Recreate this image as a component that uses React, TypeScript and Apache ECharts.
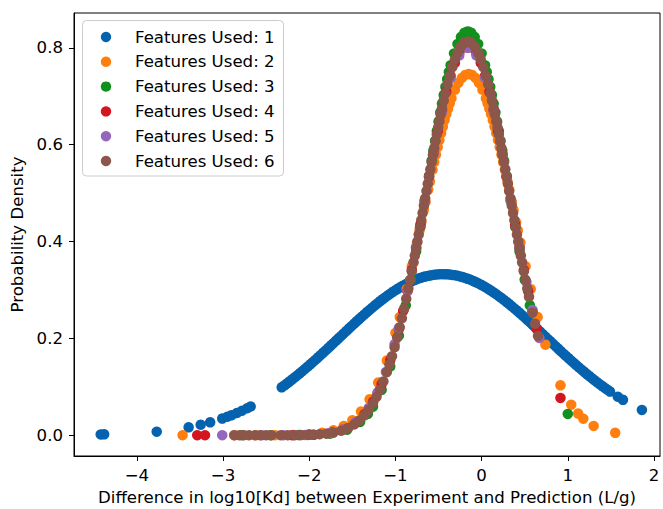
import React, { useEffect, useRef } from "react";
import * as echarts from "echarts";

type P = [number, number];

const seriesNames = [
  "Features Used: 1",
  "Features Used: 2",
  "Features Used: 3",
  "Features Used: 4",
  "Features Used: 5",
  "Features Used: 6",
];
const seriesColors = ["#0462ae", "#ff7f0e", "#11901e", "#d3151f", "#9467bd", "#8c564b"];

const xTicks = [-4, -3, -2, -1, 0, 1, 2];
const yTicks = [0, 0.2, 0.4, 0.6, 0.8];

const features1: P[] = [
  [-4.42, 0.0015], [-4.38, 0.0017], [-3.77, 0.0072], [-3.4, 0.0162], [-3.26, 0.0214], [-3.15, 0.0265],
  [-3.01, 0.0342], [-2.95, 0.038], [-2.9, 0.0414], [-2.84, 0.0457], [-2.78, 0.0505], [-2.72, 0.0556], [-2.68, 0.0592],
  [-2.32, 0.0988], [-2.29, 0.1026], [-2.26, 0.1066], [-2.23, 0.1107], [-2.2, 0.1148], [-2.17, 0.119], [-2.14, 0.1234],
  [-2.11, 0.1277], [-2.08, 0.1322], [-2.05, 0.1367], [-2.02, 0.1413], [-1.99, 0.1459], [-1.96, 0.1507], [-1.93, 0.1554],
  [-1.9, 0.1602], [-1.87, 0.1651], [-1.84, 0.17], [-1.81, 0.175], [-1.78, 0.1799], [-1.75, 0.1849], [-1.72, 0.1899],
  [-1.69, 0.1949], [-1.66, 0.2], [-1.63, 0.205], [-1.6, 0.2101], [-1.57, 0.2151], [-1.54, 0.2201], [-1.51, 0.2251],
  [-1.48, 0.23], [-1.45, 0.235], [-1.42, 0.2398], [-1.39, 0.2447], [-1.36, 0.2494], [-1.33, 0.2541], [-1.3, 0.2587],
  [-1.27, 0.2633], [-1.24, 0.2677], [-1.21, 0.2721], [-1.18, 0.2763], [-1.15, 0.2805], [-1.12, 0.2845], [-1.09, 0.2884],
  [-1.06, 0.2922], [-1.03, 0.2959], [-1.0, 0.2993], [-0.97, 0.3027], [-0.94, 0.3059], [-0.91, 0.3089], [-0.88, 0.3118],
  [-0.85, 0.3145], [-0.82, 0.3171], [-0.79, 0.3194], [-0.76, 0.3216], [-0.73, 0.3236], [-0.7, 0.3254], [-0.67, 0.327],
  [-0.64, 0.3284], [-0.61, 0.3295], [-0.58, 0.3305], [-0.55, 0.3313], [-0.52, 0.3319], [-0.49, 0.3323], [-0.46, 0.3325],
  [-0.43, 0.3325], [-0.4, 0.3322], [-0.37, 0.3318], [-0.34, 0.3311], [-0.31, 0.3302], [-0.28, 0.3292], [-0.25, 0.3279],
  [-0.22, 0.3265], [-0.19, 0.3248], [-0.16, 0.3229], [-0.13, 0.3209], [-0.1, 0.3187], [-0.07, 0.3162], [-0.04, 0.3137],
  [-0.01, 0.3109], [0.02, 0.308], [0.05, 0.3049], [0.08, 0.3016], [0.11, 0.2982], [0.14, 0.2946], [0.17, 0.291],
  [0.2, 0.2871], [0.23, 0.2832], [0.26, 0.2791], [0.29, 0.2749], [0.32, 0.2707], [0.35, 0.2662], [0.38, 0.2617],
  [0.41, 0.2572], [0.44, 0.2526], [0.47, 0.2478], [0.5, 0.2431], [0.53, 0.2382], [0.56, 0.2333], [0.59, 0.2284],
  [0.62, 0.2234], [0.65, 0.2185], [0.68, 0.2134], [0.71, 0.2084], [0.74, 0.2034], [0.77, 0.1983], [0.8, 0.1933],
  [0.83, 0.1882], [0.86, 0.1832], [0.89, 0.1783], [0.92, 0.1733], [0.95, 0.1683], [0.98, 0.1635], [1.01, 0.1586],
  [1.04, 0.1538], [1.07, 0.1491], [1.1, 0.1444], [1.13, 0.1397], [1.16, 0.1352], [1.19, 0.1307], [1.22, 0.1262],
  [1.25, 0.1219], [1.28, 0.1176], [1.31, 0.1134], [1.34, 0.1093], [1.37, 0.1053], [1.4, 0.1013], [1.43, 0.0975],
  [1.46, 0.0937], [1.49, 0.09], [1.58, 0.0795], [1.64, 0.073], [1.86, 0.0521],
];

const features2: P[] = [
  [-3.47, 0], [-2.87, 0], [-2.62, 0], [-2.4, 0.0001], [-2.18, 0.0005], [-2.0, 0.0019], [-1.85, 0.0048],
  [-1.72, 0.0101], [-1.6, 0.019], [-1.5, 0.0309], [-1.4, 0.0487], [-1.3, 0.0741], [-1.2, 0.1088], [-1.1, 0.1542],
  [-1.0, 0.2112], [-0.95, 0.2439], [-0.87, 0.3016], [-0.81, 0.3486], [-0.75, 0.3978], [-0.72, 0.4229], [-0.7, 0.4398],
  [-0.67, 0.4652], [-0.65, 0.4821], [-0.62, 0.5072], [-0.6, 0.5238], [-0.57, 0.5482], [-0.55, 0.5641], [-0.53, 0.5797],
  [-0.51, 0.5949], [-0.49, 0.6096], [-0.47, 0.6238], [-0.45, 0.6375], [-0.43, 0.6505], [-0.41, 0.6629], [-0.39, 0.6746],
  [-0.37, 0.6855], [-0.35, 0.6956], [-0.31, 0.7134], [-0.27, 0.7275], [-0.23, 0.7377], [-0.19, 0.7439], [-0.15, 0.746],
  [-0.11, 0.7439], [-0.07, 0.7377], [-0.03, 0.7275], [0.01, 0.7134], [0.05, 0.6956], [0.07, 0.6855], [0.09, 0.6746],
  [0.11, 0.6629], [0.13, 0.6505], [0.15, 0.6375], [0.17, 0.6238], [0.19, 0.6096], [0.21, 0.5949], [0.23, 0.5797],
  [0.25, 0.5641], [0.27, 0.5482], [0.3, 0.5238], [0.32, 0.5072], [0.35, 0.4821], [0.37, 0.4652], [0.4, 0.4398],
  [0.42, 0.4229], [0.45, 0.3978], [0.51, 0.3486], [0.57, 0.3016], [0.65, 0.2439], [0.74, 0.187],
  [0.915, 0.1029], [1.04, 0.0629], [1.12, 0.0446], [1.18, 0.034], [1.3, 0.019], [1.55, 0.0048],
];

const features3: P[] = [
  [-2.78, 0], [-2.45, 0], [-2.12, 0.0002], [-1.95, 0.0007], [-1.76, 0.0031], [-1.56, 0.0114], [-1.41, 0.0273],
  [-1.32, 0.0439], [-1.26, 0.059], [-1.16, 0.0935], [-1.06, 0.1417], [-0.96, 0.2056], [-0.88, 0.2682], [-0.82, 0.3215],
  [-0.76, 0.3794], [-0.71, 0.4302], [-0.66, 0.4826], [-0.61, 0.5354], [-0.58, 0.5669], [-0.56, 0.5876], [-0.54, 0.6081],
  [-0.52, 0.6281], [-0.5, 0.6476], [-0.48, 0.6666], [-0.46, 0.685], [-0.44, 0.7025], [-0.42, 0.7193], [-0.4, 0.7353],
  [-0.38, 0.7502], [-0.36, 0.7641], [-0.32, 0.7885], [-0.28, 0.8081], [-0.24, 0.8224], [-0.2, 0.8311], [-0.16, 0.834],
  [-0.12, 0.8311], [-0.08, 0.8224], [-0.04, 0.8081], [0.0, 0.7885], [0.04, 0.7641], [0.06, 0.7502], [0.08, 0.7353],
  [0.1, 0.7193], [0.12, 0.7025], [0.14, 0.685], [0.16, 0.6666], [0.18, 0.6476], [0.2, 0.6281], [0.22, 0.6081],
  [0.24, 0.5876], [0.26, 0.5669], [0.29, 0.5354], [0.34, 0.4826], [0.39, 0.4302], [0.44, 0.3794], [0.5, 0.3215],
  [0.56, 0.2682], [1.0, 0.0439],
];

const features4: P[] = [
  [-3.3, 0], [-3.21, 0], [-2.2, 0], [-2.0, 0.0008], [-1.73, 0.0054], [-1.61, 0.0112], [-1.46, 0.0259], [-1.36, 0.0431],
  [-1.26, 0.0688], [-1.16, 0.1055], [-1.06, 0.1552], [-0.96, 0.2192], [-0.91, 0.2566], [-0.86, 0.2974], [-0.81, 0.3411],
  [-0.76, 0.3873], [-0.71, 0.4353], [-0.66, 0.4843], [-0.61, 0.5334], [-0.56, 0.5815], [-0.51, 0.6276], [-0.46, 0.6704],
  [-0.41, 0.709], [-0.36, 0.7421], [-0.31, 0.769], [-0.26, 0.7888], [-0.21, 0.8009], [-0.16, 0.805], [-0.11, 0.8009],
  [-0.06, 0.7888], [-0.01, 0.769], [0.04, 0.7421], [0.09, 0.709], [0.14, 0.6704], [0.19, 0.6276], [0.24, 0.5815],
  [0.29, 0.5334], [0.34, 0.4843], [0.39, 0.4353], [0.44, 0.3873], [0.49, 0.3411], [0.54, 0.2974], [0.59, 0.2566],
  [0.64, 0.2192], [0.915, 0.0769],
];

const features5: P[] = [
  [-3.01, 0], [-2.55, 0], [-2.3, 0], [-2.05, 0.0003], [-1.76, 0.0047], [-1.61, 0.0117], [-1.46, 0.0269], [-1.31, 0.0562],
  [-1.21, 0.0874], [-1.11, 0.1306], [-1.01, 0.1875], [-0.96, 0.2213], [-0.86, 0.299], [-0.76, 0.3883], [-0.66, 0.4842],
  [-0.56, 0.5802], [-0.46, 0.6677], [-0.36, 0.7382], [-0.26, 0.7841], [-0.16, 0.8], [-0.06, 0.7841], [0.04, 0.7382],
  [0.14, 0.6677], [0.24, 0.5802], [0.34, 0.4842], [0.44, 0.3883], [0.52, 0.3161], [0.59, 0.2586], [0.67, 0.2006],
];

const features6: P[] = [
  [-2.87, 0], [-2.81, 0], [-2.76, 0], [-2.7, 0], [-2.63, 0], [-2.57, 0], [-2.5, 0], [-2.44, 0], [-2.33, 0], [-2.25, 0],
  [-2.17, 0.0001], [-2.1, 0.0002], [-2.02, 0.0005], [-1.95, 0.001], [-1.88, 0.002], [-1.8, 0.0031], [-1.72, 0.0052],
  [-1.63, 0.0092], [-1.55, 0.0148], [-1.48, 0.0219], [-1.42, 0.0302], [-1.36, 0.041], [-1.31, 0.0523], [-1.26, 0.066],
  [-1.22, 0.079], [-1.18, 0.0939], [-1.14, 0.1109], [-1.1, 0.13], [-1.07, 0.1459], [-1.04, 0.1631], [-1.01, 0.1816],
  [-0.98, 0.2015], [-0.95, 0.2228], [-0.925, 0.2415], [-0.9, 0.2611], [-0.875, 0.2815], [-0.85, 0.3028], [-0.83, 0.3203],
  [-0.81, 0.3384], [-0.79, 0.3568], [-0.775, 0.3709], [-0.76, 0.3853], [-0.745, 0.3997], [-0.73, 0.4143], [-0.715, 0.4291],
  [-0.7, 0.444], [-0.685, 0.4589], [-0.67, 0.474], [-0.655, 0.489], [-0.64, 0.5041], [-0.625, 0.5191], [-0.61, 0.5341],
  [-0.595, 0.549], [-0.58, 0.5638], [-0.565, 0.5785], [-0.55, 0.5929], [-0.535, 0.6073], [-0.52, 0.6213], [-0.505, 0.6351],
  [-0.49, 0.6486], [-0.475, 0.6618], [-0.46, 0.6746], [-0.44, 0.691], [-0.42, 0.7066], [-0.395, 0.725], [-0.37, 0.7419],
  [-0.34, 0.7602], [-0.31, 0.7759], [-0.28, 0.7891], [-0.24, 0.8023], [-0.2, 0.8103], [-0.16, 0.813], [-0.12, 0.8103],
  [-0.08, 0.8023], [-0.04, 0.7891], [-0.01, 0.7759], [0.02, 0.7602], [0.05, 0.7419], [0.075, 0.725], [0.1, 0.7066],
  [0.12, 0.691], [0.14, 0.6746], [0.155, 0.6618], [0.17, 0.6486], [0.185, 0.6351], [0.2, 0.6213], [0.215, 0.6073],
  [0.23, 0.5929], [0.245, 0.5785], [0.26, 0.5638], [0.275, 0.549], [0.29, 0.5341], [0.305, 0.5191], [0.32, 0.5041],
  [0.335, 0.489], [0.35, 0.474], [0.365, 0.4589], [0.38, 0.444], [0.395, 0.4291], [0.41, 0.4143], [0.425, 0.3997],
  [0.44, 0.3853], [0.455, 0.3709], [0.47, 0.3568], [0.49, 0.3384], [0.51, 0.3203], [0.53, 0.3028], [0.55, 0.2857],
  [0.59, 0.2531], [0.62, 0.2301], [0.655, 0.205],
];

const allData = [features1, features2, features3, features4, features5, features6];

const FONT = "DejaVu Sans";
const FS = 16.6;

export default function App() {
  const ref = useRef<HTMLDivElement>(null);
  useEffect(() => {
    document.body.style.margin = "0";
    if (!ref.current) return;
    const chart = echarts.init(ref.current, undefined, { renderer: "svg" });
    const fmtX = (v: number) => (v < 0 ? "\u2212" + Math.abs(v) : String(v));

    // legend drawn as a graphic box (matplotlib style)
    const legendLeft = 82.5;
    const legendTop = 20.5;
    const rowStep = 24.8;
    const firstRow = 37;
    const legendChildren: any[] = [
      {
        type: "rect",
        shape: { x: legendLeft, y: legendTop, width: 201, height: 155.5, r: 4 },
        style: { fill: "rgba(255,255,255,0.85)", stroke: "#cccccc", lineWidth: 1 },
      },
    ];
    seriesNames.forEach((name, i) => {
      const cy = firstRow + i * rowStep;
      legendChildren.push({
        type: "circle",
        shape: { cx: 106, cy, r: 5.2 },
        style: { fill: seriesColors[i] },
      });
      legendChildren.push({
        type: "text",
        x: 135,
        y: cy,
        style: {
          text: name,
          fontFamily: FONT,
          fontSize: FS,
          fill: "#000",
          verticalAlign: "middle",
          align: "left",
        },
      });
    });

    chart.setOption({
      animation: false,
      backgroundColor: "#ffffff",
      textStyle: { fontFamily: FONT },
      grid: {
        left: 74,
        right: 3,
        top: 13,
        bottom: 53,
        show: true,
        borderColor: "#000",
        borderWidth: 1,
        backgroundColor: "transparent",
        outerBoundsMode: "none",
        containLabel: false,
      },
      graphic: [{ type: "group", z: 100, silent: true, children: legendChildren }],
      xAxis: {
        type: "value",
        min: -4.73,
        max: 2.07,
        name: "Difference in log10[Kd] between Experiment and Prediction (L/g)",
        nameLocation: "middle",
        nameGap: 31,
        nameTextStyle: { fontFamily: FONT, fontSize: FS, color: "#000" },
        axisLine: { show: true, onZero: false, lineStyle: { color: "#000", width: 1 } },
        axisTick: { show: true, length: 5, lineStyle: { color: "#000" }, customValues: xTicks },
        axisLabel: {
          fontFamily: FONT,
          fontSize: FS,
          color: "#000",
          margin: 11,
          customValues: xTicks,
          formatter: fmtX,
        },
        splitLine: { show: false },
      },
      yAxis: {
        type: "value",
        min: -0.043,
        max: 0.872,
        name: "Probability Density",
        nameLocation: "middle",
        nameGap: 48,
        nameTextStyle: { fontFamily: FONT, fontSize: FS, color: "#000" },
        axisLine: { show: true, onZero: false, lineStyle: { color: "#000", width: 1 } },
        axisTick: { show: true, length: 5, lineStyle: { color: "#000" }, customValues: yTicks },
        axisLabel: {
          fontFamily: FONT,
          fontSize: FS,
          color: "#000",
          margin: 11,
          customValues: yTicks,
          formatter: (v: number) => v.toFixed(1),
        },
        splitLine: { show: false },
      },
      series: allData.map((d, i) => ({
        type: "scatter",
        name: seriesNames[i],
        data: d,
        symbol: "circle",
        symbolSize: 10.5,
        silent: true,
        itemStyle: { color: seriesColors[i], opacity: 1 },
        emphasis: { disabled: true },
      })),
    });
    return () => chart.dispose();
  }, []);
  return (
    <div
      ref={ref}
      style={{ position: "absolute", left: 0, top: 0, width: 663, height: 509 }}
    />
  );
}
